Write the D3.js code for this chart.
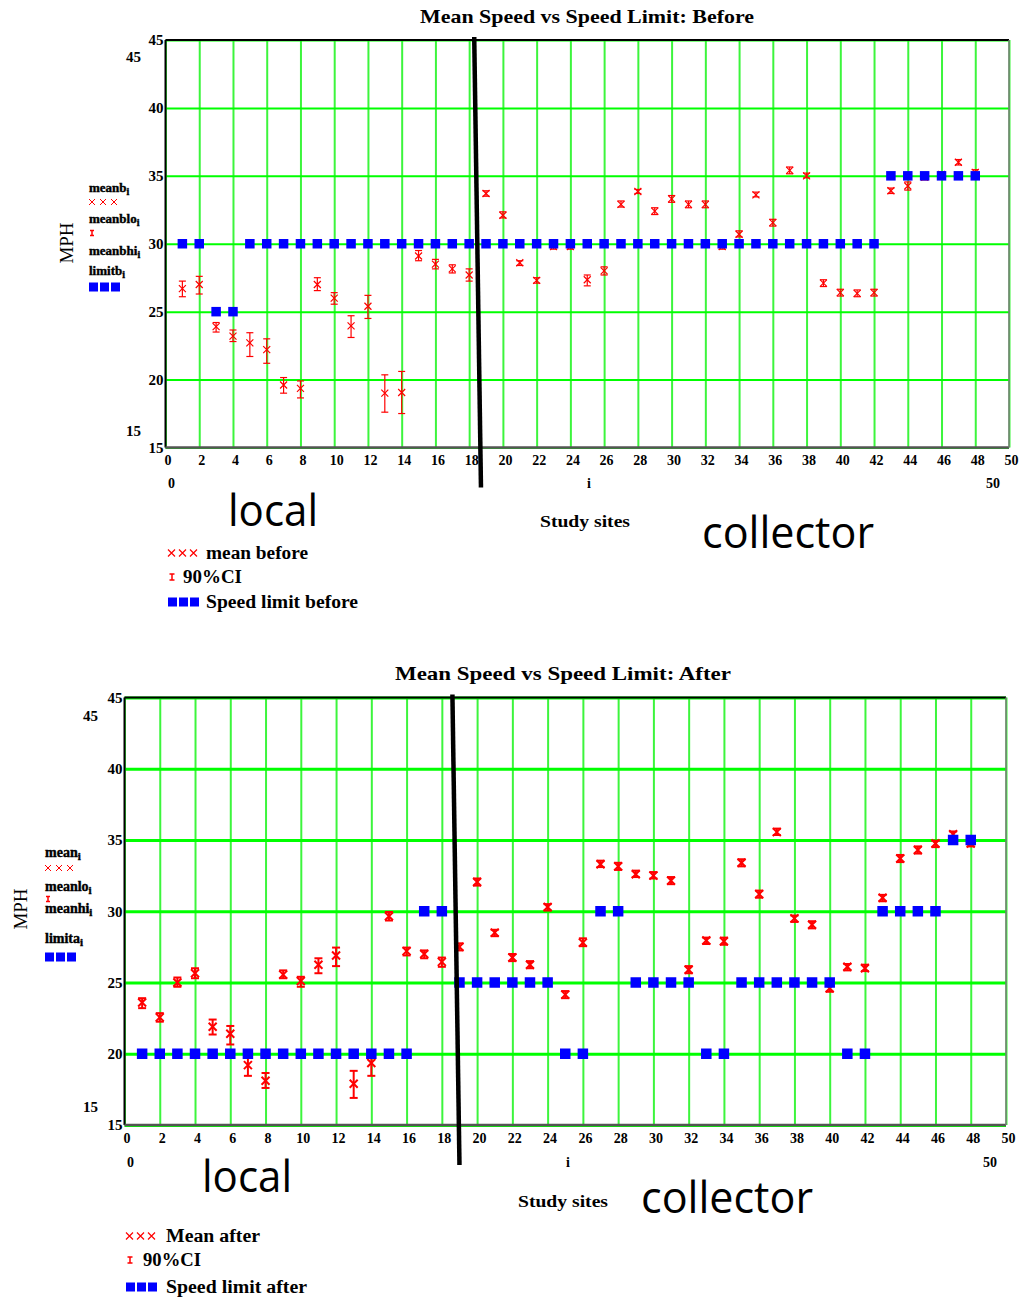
<html>
<head>
<meta charset="utf-8">
<style>
  body { margin: 0; background: #fff; }
  svg text { font-family: "Liberation Serif", "DejaVu Serif", serif; }
</style>
</head>
<body>
<script src="https://cdn.jsdelivr.net/npm/d3@7/dist/d3.min.js"></script>
<div id="main"></div>

<script>
// study site index i
var sites = [1,2,3,4,5,6,7,8,9,10,11,12,13,14,15,16,17,18,19,20,21,22,23,24,
             25,26,27,28,29,30,31,32,33,34,35,36,37,38,39,40,41,42,43,44,45,46,47,48];

// before: mean speed, 90% CI low / high, posted limit
var beforeMean = [26.7,27.0,23.9,23.2,22.7,22.2,19.6,19.35,27.0,26.0,23.95,25.4,19.0,19.05,29.1,28.5,28.15,27.7,
                  33.7,32.1,28.6,27.3,29.8,29.8,27.35,28.0,32.9,33.85,32.4,33.3,32.9,32.9,29.8,30.7,33.6,31.55,
                  35.4,35.0,27.1,26.4,26.35,26.4,33.9,34.25,34.9,35.1,36.0,35.25];
var beforeLo   = [26.1,26.3,23.5,22.8,21.7,21.2,19.0,18.65,26.55,25.55,23.1,24.5,17.6,17.5,28.75,28.15,27.85,27.25,
                  33.5,31.9,28.4,27.1,29.6,29.6,26.9,27.7,32.7,33.7,32.15,33.05,32.65,32.65,29.6,30.5,33.45,31.3,
                  35.15,34.85,26.85,26.15,26.1,26.15,33.7,33.95,34.7,34.95,35.8,35.1];
var beforeHi   = [27.25,27.6,24.2,23.65,23.45,23.0,20.15,19.9,27.5,26.4,24.7,26.2,20.35,20.6,29.5,28.85,28.45,28.15,
                  33.9,32.35,28.75,27.5,30.0,30.0,27.7,28.3,33.15,34.0,32.65,33.55,33.15,33.15,30.0,30.95,33.8,31.8,
                  35.65,35.2,27.35,26.65,26.6,26.65,34.1,34.55,35.1,35.3,36.2,35.45];
var beforeLimit = [30,30,25,25,30,30,30,30,30,30,30,30,30,30,30,30,30,30,30,30,30,30,30,30,
                   30,30,30,30,30,30,30,30,30,30,30,30,30,30,30,30,30,30,35,35,35,35,35,35];

// after
var afterMean = [23.6,22.55,25.0,25.65,21.9,21.4,19.2,18.1,25.55,25.1,26.25,26.9,17.9,19.35,29.65,27.2,27.0,26.45,
                 27.5,32.05,28.5,26.75,26.25,30.3,24.15,27.8,33.3,33.15,32.6,32.5,32.15,25.9,27.95,27.9,33.4,31.2,
                 35.55,29.5,29.05,24.6,26.1,26.0,30.95,33.7,34.3,34.75,35.4,34.75];
var afterLo   = [23.2,22.25,24.7,25.3,21.35,20.65,18.45,17.6,25.3,24.7,25.65,26.15,16.9,18.45,29.35,26.9,26.7,26.1,
                 27.25,31.8,28.25,26.5,26.0,30.05,23.9,27.55,33.1,32.9,32.4,32.3,31.9,25.65,27.7,27.65,33.15,30.95,
                 35.35,29.25,28.8,24.35,25.85,25.8,30.7,33.45,34.05,34.5,35.2,34.55];
var afterHi   = [23.9,22.85,25.35,26.0,22.4,21.95,19.7,18.65,25.85,25.4,26.7,27.45,18.8,20.0,29.95,27.45,27.25,26.75,
                 27.75,32.3,28.7,27.0,26.5,30.5,24.4,28.1,33.55,33.4,32.85,32.75,32.4,26.15,28.15,28.15,33.65,31.45,
                 35.8,29.7,29.3,24.85,26.3,26.25,31.15,33.95,34.55,34.95,35.6,34.95];
var afterLimit = [20,20,20,20,20,20,20,20,20,20,20,20,20,20,20,20,30,30,25,25,25,25,25,25,
                  20,20,30,30,25,25,25,25,20,20,25,25,25,25,25,25,20,20,30,30,30,30,35,35];

var xTicks = [0,2,4,6,8,10,12,14,16,18,20,22,24,26,28,30,32,34,36,38,40,42,44,46,48,50];
var yTicks = [15,20,25,30,35,40,45];
var xDomain = [0, 50];
var yDomain = [15, 45];

var svg = d3.select("#main").append("svg")
    .attr("width", 1023)
    .attr("height", 1302);

function drawChart(o) {
    var x = d3.scaleLinear().domain(xDomain).range([o.left, o.right]);
    var y = d3.scaleLinear().domain(yDomain).range([o.bottom, o.top]);
    var g = svg.append("g");

    // vertical grid + x tick labels
    var xa = g.append("g")
        .attr("transform", "translate(0," + o.bottom + ")")
        .call(d3.axisBottom(x).tickValues(xTicks).tickSize(-(o.bottom - o.top)).tickPadding(8));
    xa.select(".domain").remove();
    xa.selectAll(".tick line").attr("stroke", "#3cf53c").attr("stroke-width", 2);
    xa.selectAll(".tick text").attr("font-size", 14).attr("font-weight", "bold")
        .attr("font-family", "Liberation Serif").attr("fill", "#000").attr("dx", 2);

    // horizontal grid + y tick labels
    var ya = g.append("g")
        .attr("transform", "translate(" + o.left + ",0)")
        .call(d3.axisLeft(y).tickValues(yTicks).tickSize(-(o.right - o.left)).tickPadding(2));
    ya.select(".domain").remove();
    ya.selectAll(".tick line").attr("stroke", "#00ff00").attr("stroke-width", o.hGrid);
    ya.selectAll(".tick text").attr("font-size", 15).attr("font-weight", "bold")
        .attr("font-family", "Liberation Serif").attr("fill", "#000");

    // frame
    g.append("line").attr("x1", o.left).attr("x2", o.right).attr("y1", o.top).attr("y2", o.top)
        .attr("stroke", "#000").attr("stroke-width", 2);
    g.append("line").attr("x1", o.left).attr("x2", o.left).attr("y1", o.top).attr("y2", o.bottom)
        .attr("stroke", "#000").attr("stroke-width", 2);
    g.append("line").attr("x1", o.left).attr("x2", o.right).attr("y1", o.bottom).attr("y2", o.bottom)
        .attr("stroke", "#555").attr("stroke-width", 2.5);
    g.append("line").attr("x1", o.right).attr("x2", o.right).attr("y1", o.top).attr("y2", o.bottom)
        .attr("stroke", "#777").attr("stroke-width", 1.5);

    // axis limit labels
    g.append("text").attr("x", o.yLimX).attr("y", y(45) + o.yLimOff).attr("text-anchor", "end")
        .attr("dy", "0.35em").attr("font-size", 15).attr("font-weight", "bold").text("45");
    g.append("text").attr("x", o.yLimX).attr("y", y(15) - o.yLimOff).attr("text-anchor", "end")
        .attr("dy", "0.35em").attr("font-size", 15).attr("font-weight", "bold").text("15");
    g.append("text").attr("x", x(0) + 6).attr("y", o.limY).attr("text-anchor", "middle")
        .attr("dy", "0.35em").attr("font-size", 14).attr("font-weight", "bold").text("0");
    g.append("text").attr("x", x(50) - 16).attr("y", o.limY).attr("text-anchor", "middle")
        .attr("dy", "0.35em").attr("font-size", 14).attr("font-weight", "bold").text("50");
    g.append("text").attr("x", o.iX).attr("y", o.limY).attr("text-anchor", "middle")
        .attr("dy", "0.35em").attr("font-size", 14).attr("font-weight", "bold").text("i");

    // CI bars and mean crosses
    var pts = g.append("g").selectAll("g").data(sites).enter().append("g")
        .attr("stroke", "#ff0000").attr("stroke-width", o.mw).attr("fill", "none");
    pts.append("line")
        .attr("x1", function (d) { return x(d); }).attr("x2", function (d) { return x(d); })
        .attr("y1", function (d, k) { return y(o.lo[k]); }).attr("y2", function (d, k) { return y(o.hi[k]); });
    pts.append("line")
        .attr("x1", function (d) { return x(d) - o.cap; }).attr("x2", function (d) { return x(d) + o.cap; })
        .attr("y1", function (d, k) { return y(o.lo[k]); }).attr("y2", function (d, k) { return y(o.lo[k]); });
    pts.append("line")
        .attr("x1", function (d) { return x(d) - o.cap; }).attr("x2", function (d) { return x(d) + o.cap; })
        .attr("y1", function (d, k) { return y(o.hi[k]); }).attr("y2", function (d, k) { return y(o.hi[k]); });
    pts.append("path")
        .attr("d", function (d, k) {
            var cx = x(d), cy = y(o.mean[k]), s = o.cross;
            return "M" + (cx - s) + "," + (cy - s) + "L" + (cx + s) + "," + (cy + s) +
                   "M" + (cx - s) + "," + (cy + s) + "L" + (cx + s) + "," + (cy - s);
        });

    // speed limit squares
    g.append("g").selectAll("rect").data(sites).enter().append("rect")
        .attr("x", function (d) { return x(d) - o.sq / 2; })
        .attr("y", function (d, k) { return y(o.limit[k]) - o.sq / 2; })
        .attr("width", o.sq).attr("height", o.sq)
        .attr("fill", "#0000ff");

    // local / collector separator
    g.append("line")
        .attr("x1", x(o.sep[0])).attr("y1", o.top - 3)
        .attr("x2", x(o.sep[1])).attr("y2", o.bottom + 40)
        .attr("stroke", "#000").attr("stroke-width", 4.5);

    // titles and labels
    g.append("text").attr("x", o.titleX).attr("y", o.titleY).attr("text-anchor", "middle")
        .attr("dy", "0.35em").attr("font-size", 19).attr("font-weight", "bold")
        .attr("textLength", o.titleW).attr("lengthAdjust", "spacingAndGlyphs").text(o.title);
    g.append("text").attr("transform", "translate(" + o.mphX + "," + o.mphY + ") rotate(-90)")
        .attr("text-anchor", "middle").attr("dy", "0.35em").attr("font-size", 19)
        .text("MPH");
    g.append("text").attr("x", o.studyX).attr("y", o.studyY).attr("text-anchor", "middle")
        .attr("dy", "0.35em").attr("font-size", 17).attr("font-weight", "bold")
        .attr("textLength", 90).attr("lengthAdjust", "spacingAndGlyphs").text("Study sites");
    g.append("text").attr("x", o.localX).attr("y", o.localY).attr("text-anchor", "middle")
        .style("font-family", "Open Sans").attr("font-size", 44)
        .attr("textLength", 90).attr("lengthAdjust", "spacingAndGlyphs").text("local");
    g.append("text").attr("x", o.collX).attr("y", o.collY).attr("text-anchor", "middle")
        .style("font-family", "Open Sans").attr("font-size", 44)
        .attr("textLength", 172).attr("lengthAdjust", "spacingAndGlyphs").text("collector");

    // MathCAD style trace names
    var tl = g.append("g").attr("font-size", o.traceFs).attr("font-weight", "bold");
    o.traceNames.forEach(function (t, k) {
        var tx = tl.append("text").attr("x", o.traceX).attr("y", o.traceY[k]).attr("dy", "0.35em")
            .attr("stroke", "#000").attr("stroke-width", 0.4);
        tx.append("tspan").text(t);
        tx.append("tspan").attr("font-size", o.traceFs - 3).attr("dy", 3).text("i");
    });
    drawCrosses(tl, o.traceX, o.traceMarkY[0], 3, 1);
    drawBar(tl, o.traceX + 3, o.traceMarkY[1], 2, 2.5, 1.5);
    drawSquares(tl, o.traceX, o.traceMarkY[2], 9);

    // bottom legend
    var lg = g.append("g").attr("font-size", 18).attr("font-weight", "bold");
    drawCrosses(lg, o.legX, o.legY[0], 3.5, 1.2);
    drawBar(lg, o.legX + 4, o.legY[1], 2.5, 3, 1.5);
    drawSquares(lg, o.legX, o.legY[2], 9);
    o.legText.forEach(function (t, k) {
        lg.append("text").attr("x", o.legTx[k]).attr("y", o.legY[k]).attr("dy", "0.35em")
            .attr("textLength", o.legTw[k]).attr("lengthAdjust", "spacingAndGlyphs").text(t);
    });
}

function drawCrosses(g, x0, cy, s, w) {
    [0, 1, 2].forEach(function (k) {
        var cx = x0 + s + k * 11;
        g.append("path")
            .attr("d", "M" + (cx - s) + "," + (cy - s) + "L" + (cx + s) + "," + (cy + s) +
                       "M" + (cx - s) + "," + (cy + s) + "L" + (cx + s) + "," + (cy - s))
            .attr("stroke", "#ff0000").attr("stroke-width", w).attr("fill", "none");
    });
}

function drawBar(g, cx, cy, cap, h, w) {
    g.append("path")
        .attr("d", "M" + (cx - cap) + "," + (cy - h) + "H" + (cx + cap) + "M" + cx + "," + (cy - h) + "V" + (cy + h) +
                   "M" + (cx - cap) + "," + (cy + h) + "H" + (cx + cap))
        .attr("stroke", "#ff0000").attr("stroke-width", w).attr("fill", "none");
}

function drawSquares(g, x0, cy, s) {
    [0, 1, 2].forEach(function (k) {
        g.append("rect").attr("x", x0 + k * 11).attr("y", cy - s / 2)
            .attr("width", s).attr("height", s).attr("fill", "#0000ff");
    });
}

drawChart({
    left: 165.5, right: 1009, top: 40, bottom: 447.5, hGrid: 2,
    mean: beforeMean, lo: beforeLo, hi: beforeHi, limit: beforeLimit,
    mw: 1.2, cap: 3.5, cross: 3.5, sq: 9.5,
    sep: [18.3, 18.7],
    yLimX: 141, yLimOff: 17, limY: 483, iX: 589,
    title: "Mean Speed vs Speed Limit: Before", titleX: 587, titleY: 16, titleW: 334,
    mphX: 66, mphY: 243,
    studyX: 585, studyY: 521,
    localX: 273, localY: 526, collX: 788, collY: 548,
    traceFs: 13, traceNames: ["meanb", "meanblo", "meanbhi", "limitb"], traceX: 89, traceY: [187, 218, 250, 270],
    traceMarkY: [202, 233, 287],
    legX: 168, legY: [553, 577, 602],
    legText: ["mean before", "90%CI", "Speed limit before"],
    legTx: [206, 183, 206], legTw: [102, 59, 152]
});

drawChart({
    left: 124.5, right: 1006, top: 697.5, bottom: 1125, hGrid: 3,
    mean: afterMean, lo: afterLo, hi: afterHi, limit: afterLimit,
    mw: 2, cap: 4, cross: 4, sq: 10.5,
    sep: [18.6, 19.0],
    yLimX: 98, yLimOff: 18, limY: 1162, iX: 568,
    title: "Mean Speed vs Speed Limit: After", titleX: 563, titleY: 673, titleW: 336,
    mphX: 20, mphY: 909,
    studyX: 563, studyY: 1201,
    localX: 247, localY: 1192, collX: 727, collY: 1213,
    traceFs: 14, traceNames: ["mean", "meanlo", "meanhi", "limita"], traceX: 45, traceY: [852, 886, 908, 938],
    traceMarkY: [868, 899, 957],
    legX: 126, legY: [1236, 1260, 1287],
    legText: ["Mean after", "90%CI", "Speed limit after"],
    legTx: [166, 143, 166], legTw: [94, 58, 141]
});
</script>
</body>
</html>
